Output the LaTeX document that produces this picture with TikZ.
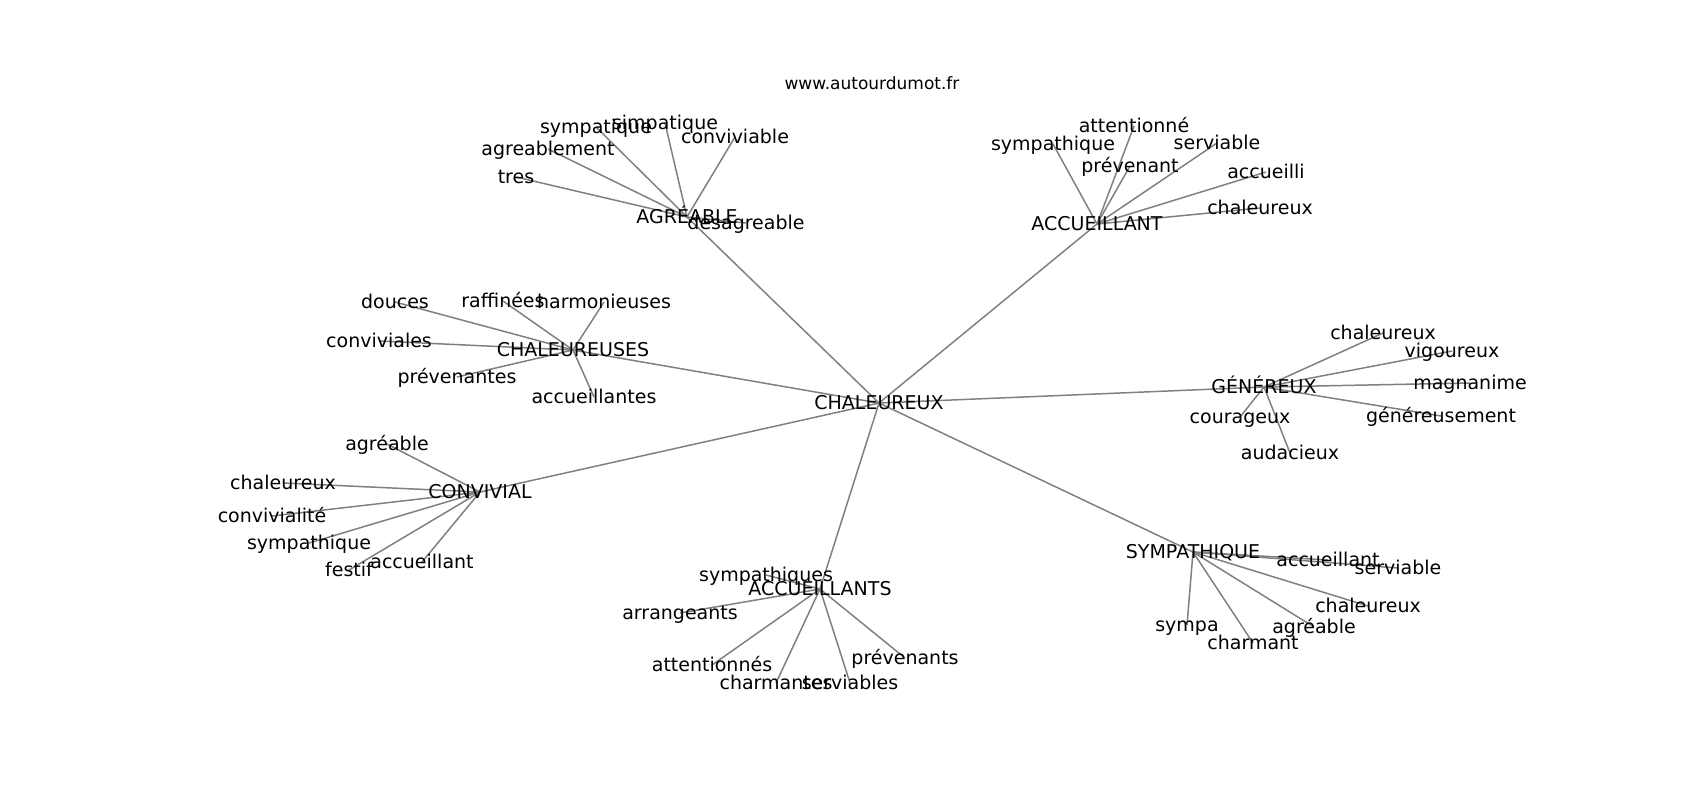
\documentclass[tikz,border=0pt]{standalone}
\usepackage{fontspec}
\setmainfont{DejaVu Sans}
\usetikzlibrary{backgrounds}
\begin{document}
\begin{tikzpicture}[x=0.5pt,y=-0.5pt,
    every node/.style={font=\fontsize{9.5}{11}\selectfont,inner sep=0pt,text height=6.9pt,text depth=0pt}]
  \useasboundingbox (0,0) rectangle (1700,800);
  \node[font=\fontsize{8.5}{10}\selectfont] (title) at (872,83) {www.autourdumot.fr};
  \draw
    (879,403) node (0){CHALEUREUX}
    (687,217) node (1){AGRÉABLE}
    (1097,224) node (2){ACCUEILLANT}
    (573,350) node (3){CHALEUREUSES}
    (1264,387) node (4){GÉNÉREUX}
    (480,492) node (5){CONVIVIAL}
    (820,589) node (6){ACCUEILLANTS}
    (1193,552) node (7){SYMPATHIQUE}
    (596,127) node (8){sympatique}
    (665,123) node (9){simpatique}
    (735,137) node (10){conviviable}
    (548,149) node (11){agreablement}
    (516,177) node (12){tres}
    (746,223) node (13){desagreable}
    (1053,144) node (14){sympathique}
    (1134,126) node (15){attentionné}
    (1130,166) node (16){prévenant}
    (1217,143) node (17){serviable}
    (1266,172) node (18){accueilli}
    (1260,208) node (19){chaleureux}
    (395,302) node (20){douces}
    (503,301) node (21){raffinées}
    (604,302) node (22){harmonieuses}
    (379,341) node (23){conviviales}
    (457,377) node (24){prévenantes}
    (594,397) node (25){accueillantes}
    (1383,333) node (26){chaleureux}
    (1452,351) node (27){vigoureux}
    (1470,383) node (28){magnanime}
    (1441,416) node (29){généreusement}
    (1240,417) node (30){courageux}
    (1290,453) node (31){audacieux}
    (387,444) node (32){agréable}
    (283,483) node (33){chaleureux}
    (272,516) node (34){convivialité}
    (309,543) node (35){sympathique}
    (349,570) node (36){festif}
    (422,562) node (37){accueillant}
    (766,575) node (38){sympathiques}
    (680,613) node (39){arrangeants}
    (712,665) node (40){attentionnés}
    (776,683) node (41){charmantes}
    (850,683) node (42){serviables}
    (905,658) node (43){prévenants}
    (1328,560) node (44){accueillant}
    (1398,568) node (45){serviable}
    (1368,606) node (46){chaleureux}
    (1314,627) node (47){agréable}
    (1187,625) node (48){sympa}
    (1253,643) node (49){charmant};
  \begin{scope}[on background layer]
  \begin{scope}[-,draw=gray,line width=0.75pt]
    \foreach \h in {1,...,7}
      \draw (0.center) to (\h.center);
    \foreach \l in {8,...,13}
      \draw (1.center) to (\l.center);
    \foreach \l in {14,...,19}
      \draw (2.center) to (\l.center);
    \foreach \l in {20,...,25}
      \draw (3.center) to (\l.center);
    \foreach \l in {26,...,31}
      \draw (4.center) to (\l.center);
    \foreach \l in {32,...,37}
      \draw (5.center) to (\l.center);
    \foreach \l in {38,...,43}
      \draw (6.center) to (\l.center);
    \foreach \l in {44,...,49}
      \draw (7.center) to (\l.center);
  \end{scope}
  \end{scope}
\end{tikzpicture}
\end{document}
